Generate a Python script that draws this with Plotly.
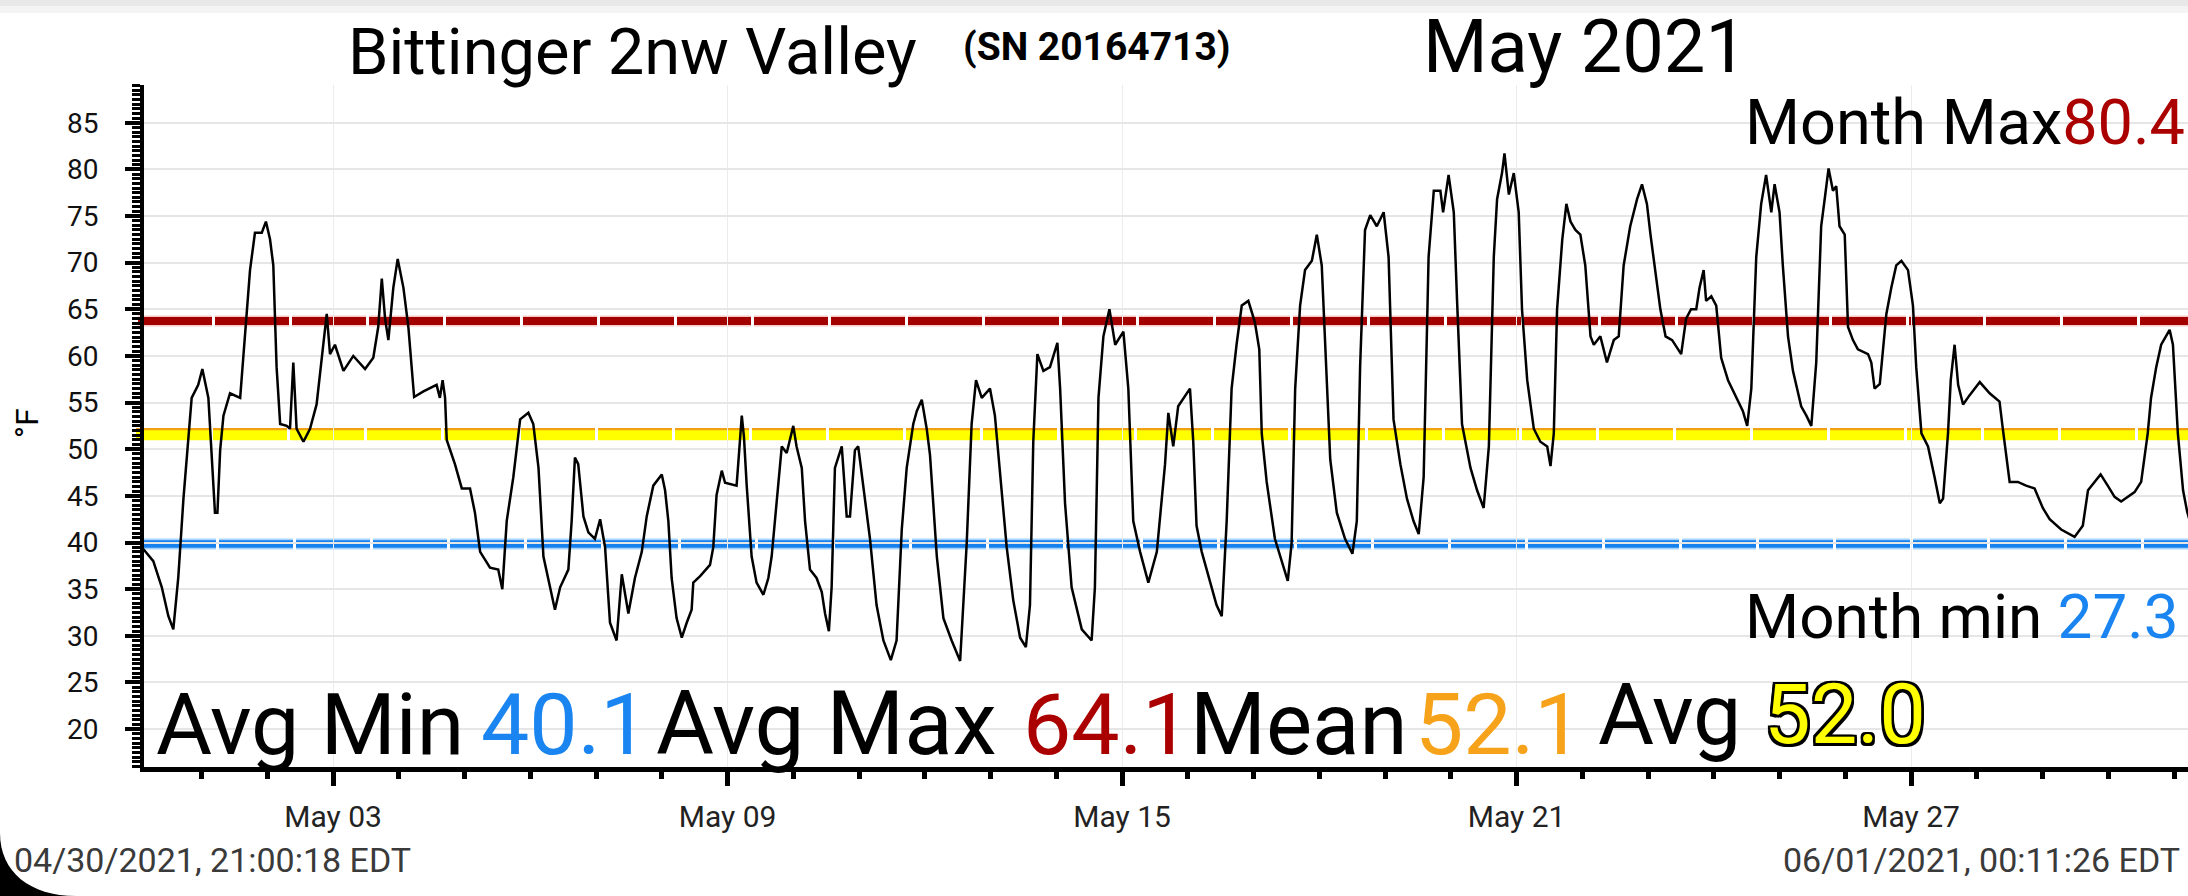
import plotly.graph_objects as go
import pandas as pd

# hourly-ish logger readings, hours after 2021-05-01 00:00 and temperature in F
hours = [
    -21.8, -17.6, -14.5, -12.1, -10.3, -8.5, -6.6, -4.8, -3.6, -1.2,
    0.3, 2.5, 3.7, 4.9, 5.8, 6.8, 8.0, 10.4, 14.1, 14.7,
    16.5, 17.7, 19.5, 22.0, 23.5, 25.0, 26.2, 27.4, 28.7, 31.1,
    32.3, 33.5, 34.7, 37.2, 39.6, 42.0, 43.9, 45.7, 46.9, 48.7,
    51.8, 55.4, 59.7, 62.7, 64.5, 65.8, 67.0, 68.2, 70.0, 71.6,
    73.7, 75.5, 76.7, 77.6, 81.0, 85.8, 87.0, 88.0, 88.9, 89.5,
    92.5, 95.0, 98.0, 99.8, 101.7, 105.3, 108.3, 109.8, 111.4, 113.8,
    116.3, 119.3, 121.1, 123.0, 124.8, 127.2, 129.0, 130.9, 133.9, 135.1,
    136.3, 137.5, 139.4, 141.2, 143.6, 145.5, 147.3, 149.1, 151.5, 153.4,
    155.8, 158.2, 160.7, 162.5, 164.9, 168.0, 169.2, 170.4, 171.6, 173.4,
    175.3, 177.1, 178.9, 179.5, 182.0, 185.6, 186.8, 188.0, 189.9, 191.1,
    195.3, 195.9, 197.2, 198.0, 199.0, 200.8, 202.6, 205.1, 206.9, 208.1,
    209.9, 211.8, 213.6, 216.0, 217.2, 219.1, 220.3, 222.1, 224.5, 226.4,
    227.6, 229.0, 230.0, 231.2, 233.7, 235.5, 236.7, 238.5, 239.7, 241.6,
    244.0, 246.4, 248.9, 251.6, 253.7, 255.6, 257.4, 259.8, 261.1, 262.9,
    264.7, 265.9, 268.4, 270.8, 273.8, 276.9, 279.3, 281.1, 282.7, 284.8,
    287.8, 289.6, 291.5, 293.9, 296.3, 298.8, 300.9, 302.4, 303.6, 305.1,
    307.3, 309.7, 312.4, 313.4, 315.2, 317.6, 321.3, 324.9, 326.1, 327.4,
    329.2, 331.4, 333.5, 336.5, 338.3, 340.1, 342.6, 345.6, 348.7, 351.7,
    352.9, 354.7, 356.5, 358.4, 360.8, 362.0, 363.2, 365.1, 368.1, 370.5,
    372.4, 374.2, 376.0, 377.8, 379.7, 382.1, 384.5, 386.1, 387.0, 388.8,
    391.8, 394.9, 396.5, 397.9, 399.2, 401.0, 402.8, 405.3, 407.1, 408.9,
    410.1, 412.0, 414.4, 417.4, 420.1, 421.7, 422.9, 424.7, 426.6, 429.0,
    431.5, 433.3, 435.1, 437.6, 440.0, 442.4, 444.3, 446.1, 447.9, 449.8,
    452.2, 453.2, 455.2, 457.1, 458.3, 460.1, 463.2, 465.6, 468.0, 469.9,
    471.7, 472.9, 474.7, 475.6, 477.2, 479.0, 480.8, 482.0, 483.9, 486.3,
    488.7, 491.2, 492.4, 493.6, 494.8, 496.7, 498.2, 499.7, 501.5, 503.3,
    505.1, 507.0, 508.2, 510.6, 513.0, 515.5, 517.3, 519.1, 521.5, 524.0,
    525.8, 527.6, 528.9, 530.7, 532.5, 534.4, 536.8, 540.1, 541.9, 543.7,
    545.6, 546.8, 548.3, 549.2, 551.1, 552.9, 554.7, 557.2, 560.2, 562.6,
    564.2, 565.7, 567.5, 569.3, 571.1, 573.0, 574.2, 576.0, 577.2, 579.1,
    580.9, 583.9, 585.8, 587.6, 589.4, 591.2, 592.7, 593.9, 595.5, 596.7,
    597.9, 599.8, 601.0, 602.8, 604.6, 608.3, 609.5, 610.7, 612.6, 615.0,
    616.8, 618.6, 620.5, 622.9, 624.7, 625.9, 627.8, 630.2, 632.6, 634.5,
    635.7, 637.5, 638.5, 639.9, 641.2, 643.0, 645.4, 649.1, 652.7, 656.3,
    657.5, 660.0, 663.0, 666.0, 669.1, 672.1, 674.6, 678.8, 683.7, 686.7,
    688.6, 690.4, 693.2, 695.8, 698.3, 700.7, 703.1, 705.6, 708.0, 709.2,
    710.4, 711.6, 713.5, 715.3, 717.1, 718.4, 719.6, 721.4, 723.3, 724.8,
    728.0,
]
temps = [
    39.5, 38.0, 35.2, 32.1, 30.7, 36.2, 44.7, 50.8, 55.5, 56.9,
    58.6, 55.5, 49.4, 43.2, 43.2, 49.9, 53.6, 56.0, 55.5, 57.9,
    65.0, 69.2, 73.2, 73.2, 74.4, 72.5, 69.7, 58.8, 52.7, 52.5,
    52.2, 59.3, 52.2, 50.8, 52.2, 54.8, 59.8, 64.5, 60.2, 61.2,
    58.4, 60.0, 58.6, 59.8, 63.1, 68.3, 64.0, 61.7, 67.3, 70.4,
    67.3, 63.1, 58.8, 55.6, 56.2, 56.9, 55.5, 57.4, 55.5, 51.0,
    48.4, 45.8, 45.8, 43.2, 39.0, 37.3, 37.1, 35.0, 42.3, 47.0,
    53.2, 53.9, 52.7, 48.0, 38.5, 35.2, 32.8, 35.2, 37.1, 42.3,
    49.1, 48.4, 42.8, 41.1, 40.4, 42.5, 39.5, 31.4, 29.5, 36.6,
    32.4, 36.2, 39.0, 42.8, 46.1, 47.3, 45.6, 42.3, 36.2, 31.9,
    29.8, 31.4, 32.8, 35.7, 36.4, 37.6, 39.5, 45.1, 47.7, 46.4,
    46.1, 48.4, 53.6, 51.3, 46.1, 38.5, 35.7, 34.4, 36.2, 38.5,
    44.2, 50.3, 49.6, 52.5, 50.3, 48.0, 42.3, 37.1, 36.2, 34.7,
    32.4, 30.5, 35.2, 48.0, 50.3, 42.8, 42.8, 49.9, 50.3, 46.1,
    40.4, 33.3, 29.5, 27.4, 29.5, 41.4, 48.0, 52.7, 54.1, 55.3,
    52.2, 49.4, 38.5, 31.9, 29.5, 27.3, 39.9, 52.7, 57.4, 55.5,
    56.5, 53.6, 47.0, 39.5, 33.8, 29.8, 28.8, 33.3, 50.8, 60.2,
    58.4, 58.8, 61.4, 56.5, 44.2, 35.2, 30.7, 29.5, 35.2, 55.5,
    62.1, 65.0, 61.2, 62.6, 56.5, 42.3, 39.0, 35.7, 39.0, 48.4,
    53.9, 50.3, 54.6, 55.5, 56.5, 50.8, 41.8, 39.0, 35.7, 33.3,
    32.1, 42.3, 56.5, 61.2, 65.4, 65.9, 63.6, 60.7, 51.7, 46.5,
    40.4, 37.6, 35.9, 39.9, 56.5, 65.4, 69.2, 70.2, 73.0, 69.7,
    61.2, 48.9, 43.2, 40.4, 38.8, 42.3, 58.8, 73.5, 75.1, 73.9,
    75.4, 70.6, 53.2, 48.4, 44.7, 42.3, 40.9, 47.0, 70.6, 77.7,
    77.7, 75.4, 79.4, 75.4, 65.9, 52.7, 48.0, 45.6, 43.7, 50.3,
    70.6, 76.8, 79.6, 81.7, 77.3, 79.6, 75.4, 65.0, 57.4, 52.2,
    50.8, 50.3, 48.2, 51.7, 65.0, 72.5, 76.3, 74.4, 73.5, 73.0,
    69.7, 62.1, 61.2, 62.1, 59.3, 61.7, 62.1, 69.7, 73.9, 76.8,
    78.4, 76.3, 73.0, 68.8, 65.0, 62.1, 61.7, 60.2, 64.0, 65.0,
    65.0, 67.3, 69.2, 65.9, 66.4, 65.4, 59.8, 57.4, 55.5, 54.1,
    52.5, 56.5, 70.6, 76.3, 79.4, 75.4, 78.4, 75.4, 69.7, 62.1,
    58.4, 54.6, 53.6, 52.5, 59.3, 73.9, 77.3, 80.1, 77.7, 78.2,
    73.9, 73.0, 63.1, 61.7, 60.7, 60.2, 59.3, 56.5, 57.0, 64.5,
    67.3, 69.7, 70.2, 69.2, 65.4, 58.8, 51.7, 50.3, 47.0, 44.2,
    44.7, 51.7, 57.4, 61.2, 56.9, 54.8, 55.8, 57.2, 56.0, 55.1,
    52.2, 46.5, 46.5, 46.1, 45.8, 43.7, 42.5, 41.4, 40.6, 41.8,
    45.6, 46.3, 47.3, 46.1, 44.9, 44.4, 44.9, 45.4, 46.5, 48.9,
    51.7, 55.5, 58.8, 61.2, 62.1, 62.8, 61.2, 51.7, 45.6, 43.3,
    40.0,
]

# reference lines as drawn on the chart
avg_max_line = 63.75
mean_line = 51.8
avg_line = 51.5
avg_min_line = 39.85

times = pd.Timestamp("2021-05-01") + pd.to_timedelta(hours, unit="h")

W, H = 2188, 896
L, R, T, B = 144, 2188, 85, 767


def px(x):
    return (x - L) / (R - L)


def py(y):
    return (B - y) / (B - T)


fig = go.Figure()
fig.add_trace(go.Scatter(
    x=times, y=temps, mode="lines",
    line=dict(color="black", width=2.5),
    hoverinfo="skip", showlegend=False,
))

dash = "74px,3px"
shapes = [
    # glow + core lines
    dict(y=avg_max_line, x0=px(138), color="rgba(240,150,150,0.5)", width=11),
    dict(y=avg_max_line, x0=px(138), color="#a30000", width=8),
    dict(y=mean_line, x0=px(136), color="#f0a010", width=9),
    dict(y=avg_line, x0=px(136), color="#ffff00", width=10),
    dict(y=avg_min_line, x0=px(142), color="rgba(130,195,255,0.7)", width=11),
    dict(y=avg_min_line, x0=px(142), color="#1580ee", width=7.5),
]
for s in shapes:
    fig.add_shape(type="line", xref="paper", yref="y", x0=s["x0"], x1=1.02,
                  y0=s["y"], y1=s["y"], layer="below",
                  line=dict(color=s["color"], width=s["width"], dash=dash))

# top grey bar and rounded phone corner
fig.add_shape(type="rect", xref="paper", yref="paper", x0=px(0), x1=px(W),
              y0=py(6), y1=py(0), fillcolor="#e8e8e8", line_width=0)
fig.add_shape(type="rect", xref="paper", yref="paper", x0=px(0), x1=px(W),
              y0=py(13), y1=py(6), fillcolor="#f4f4f4", line_width=0)
fig.add_shape(type="path", xref="paper", yref="paper", fillcolor="black", line_width=0,
              path=f"M {px(0)} {py(833)} C {px(0)} {py(872)} {px(30)} {py(896)} {px(76)} {py(896)} "
                   f"L {px(0)} {py(896)} Z")


def note(text, x, y, size, color="black", anchor="left", bold=False, shadow=None, angle=0):
    font = dict(family="Roboto", size=size, color=color)
    if bold:
        font["weight"] = "bold"
    if shadow:
        font["shadow"] = shadow
    fig.add_annotation(text=text, xref="paper", yref="paper", x=px(x), y=py(y),
                       xanchor=anchor, yanchor="middle", showarrow=False,
                       font=font, textangle=angle)


note("Bittinger 2nw Valley", 346, 52, 65)
note("(SN 20164713)", 961, 47, 39, bold=True)
note("May 2021", 1421, 46, 74)
note("Month Max<span style='color:#aa0000'>80.4</span>", 1743, 123, 63)
note("Month min <span style='color:#1a85f0'>27.3</span>", 1743, 616, 62)

note("Avg Min ", 154, 724, 86)
note("40.1", 479, 724, 86, color="#1a85f0")
note("Avg Max ", 654, 723, 89)
note("64.1", 1021, 724, 86, color="#aa0000")
note("Mean", 1188, 724, 87)
note("52.1", 1413, 724, 86, color="#f7a21b")
note("Avg", 1596, 714, 86)
outline = ("-2.5px -2.5px 0 #000, 2.5px -2.5px 0 #000, -2.5px 2.5px 0 #000, 2.5px 2.5px 0 #000, "
           "0 2.5px 0 #000, 0 -2.5px 0 #000, 2.5px 0 0 #000, -2.5px 0 0 #000")
note("52.0", 1762, 714, 83, color="#ffff00", shadow=outline)

note("04/30/2021, 21:00:18 EDT", 12, 860, 34, color="#3a3a3a")
note("06/01/2021, 00:11:26 EDT", 2182, 860, 34, color="#3a3a3a", anchor="right")
note("°F", 27, 423, 32, anchor="center", angle=-90)

fig.update_xaxes(
    type="date",
    range=["2021-04-30 03:00", "2021-05-31 05:06"],
    tick0="2021-05-03", dtick=6 * 86400000, tickformat="%b %d",
    showline=True, linewidth=5, linecolor="black",
    ticks="outside", ticklen=14, tickwidth=5, tickcolor="black",
    ticklabelstandoff=5,
    tickfont=dict(family="Roboto", size=30, color="#222222"),
    showgrid=True, gridcolor="#ececec", gridwidth=1.2, zeroline=False,
    minor=dict(dtick=86400000, tick0="2021-05-01", ticks="outside", ticklen=7,
               tickwidth=5, tickcolor="black", showgrid=False),
)
fig.update_yaxes(
    range=[15.94, 89.04], tick0=0, dtick=5,
    showline=True, linewidth=4, linecolor="black",
    ticks="outside", ticklen=15, tickwidth=4, tickcolor="black",
    ticklabelstandoff=21,
    tickfont=dict(family="Roboto", size=28, color="#111111"),
    showgrid=True, gridcolor="#e6e6e6", gridwidth=1.5, zeroline=False,
    minor=dict(dtick=0.5, tick0=0, ticks="outside", ticklen=8, tickwidth=3,
               tickcolor="black", showgrid=False),
)
fig.update_layout(
    width=W, height=H,
    margin=dict(l=L, r=W - R, t=T, b=H - B),
    paper_bgcolor="white", plot_bgcolor="white",
    showlegend=False,
    font=dict(family="Roboto"),
)

fig.write_html(
    "out.html",
    config={"displayModeBar": False},
    post_script="document.body.style.margin='0px'; document.body.style.overflow='hidden';",
)
